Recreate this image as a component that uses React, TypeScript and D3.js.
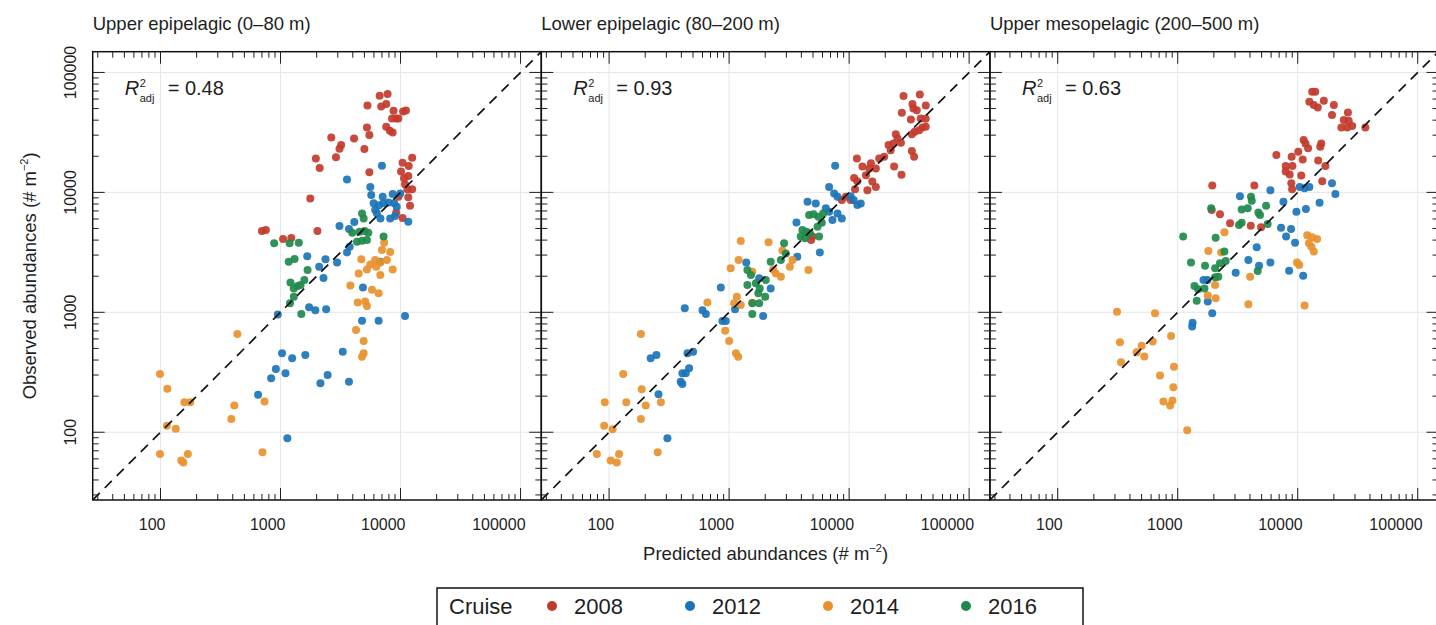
import React from 'react';
import * as d3 from 'd3';

// ---------- labels ----------
const panelTitles = ['Upper epipelagic (0–80 m)', 'Lower epipelagic (80–200 m)', 'Upper mesopelagic (200–500 m)'];
const r2Values = ['0.48', '0.93', '0.63'];
const cruises = ['2008', '2012', '2014', '2016'];
const cruiseColors = ['#c23b2c', '#1b74b9', '#e8912c', '#1f8a4c'];

// ---------- data: [predicted, observed] (# m^-2) ----------
const upperEpi2008 = [[6700,64000],[7800,66000],[5300,53000],[6900,52000],[7600,54500],[8750,48000],[10500,47300],[11100,48200],[8500,41400],[9200,41400],[9600,41400],[7600,35200],[8150,32700],[8600,31600],[5250,34800],[5500,30100],[2650,28700],[3200,24800],[3100,23100],[2900,19600],[4100,28200],[5000,23000],[1970,19200],[2120,16000],[5500,14700],[10400,17700],[12500,19400],[11700,16600],[10100,14900],[11600,13700],[10700,13100],[10900,11700],[11400,10600],[12500,10600],[9600,9200],[11600,9100],[12000,7750],[9200,6800],[10400,6100],[1770,8900],[700,4760],[755,4850],[1050,4080],[1230,4160],[2030,4760]];
const upperEpi2012 = [[7000,16700],[3580,12800],[5600,11100],[5700,9500],[7100,9200],[8600,9700],[9950,9800],[5970,8100],[6600,7800],[7200,8100],[7950,8250],[8850,8100],[9300,7600],[6150,7130],[6350,6700],[8200,6070],[9000,6350],[11600,5700],[6800,6070],[3100,5240],[4120,5670],[3720,4950],[3770,3520],[3580,3160],[1670,2930],[2370,2770],[2100,2400],[2960,2600],[2280,1930],[6780,2640],[4860,1610],[1730,1100],[1950,1040],[2400,1060],[950,960],[4780,850],[6570,850],[10900,930],[1030,455],[1250,414],[1610,441],[3300,470],[915,337],[1100,310],[835,282],[2150,256],[2470,300],[3720,264],[650,205],[1140,89]];
const upperEpi2014 = [[7300,3810],[7000,3300],[8200,3180],[4710,2770],[6150,2730],[5600,2510],[6780,2600],[5250,2280],[6280,2400],[7700,2730],[8600,2280],[6780,2050],[4480,2110],[3820,1670],[5780,1540],[6570,1440],[4400,1210],[5080,1230],[5250,1130],[4260,713],[4930,577],[4930,455],[4780,427],[437,659],[99,306],[114,230],[158,178],[177,178],[412,167],[389,129],[736,180],[113,113],[134,107],[99,66],[149,58],[155,56],[169,66],[708,68]];
const upperEpi2016 = [[4780,6680],[4930,6070],[4560,4700],[5020,4760],[5390,4610],[4780,3950],[4340,3880],[5250,4010],[7220,4280],[3960,4610],[885,3760],[1190,3760],[1420,3810],[1170,2640],[1310,2780],[1680,2250],[1210,1770],[1390,1660],[1580,1860],[1470,1690],[1290,1350],[1200,1190],[1490,970],[1290,1580]];

const lowerEpi2008 = [[28400,63500],[38800,65600],[33700,54500],[34300,50100],[36600,48500],[43500,53100],[27500,46100],[32700,40600],[39500,41400],[43500,41100],[40800,34800],[43500,35200],[35200,32100],[38300,33000],[33300,30600],[24500,30600],[25300,28200],[21300,24800],[23400,25600],[27000,25900],[22200,22500],[33300,22100],[34800,19800],[19600,19800],[17800,19200],[11600,19200],[15200,17500],[12900,16400],[23700,16400],[14700,15800],[16700,15800],[27300,14000],[13800,13900],[11000,13200],[15600,12300],[11700,12400],[16700,11100],[14200,10400],[11200,10600],[9400,9200],[10300,8630],[8700,8630],[4950,4280],[4820,4010]];
const lowerEpi2012 = [[7650,16700],[6810,11100],[7500,9800],[8000,9200],[10300,9300],[10900,8630],[11700,7830],[12500,8090],[4500,8360],[5270,8090],[6390,7360],[6810,6900],[8000,6680],[8690,6070],[7260,5880],[3640,5620],[5700,3160],[3700,2910],[1390,2600],[1780,1920],[2220,1580],[1920,931],[853,1610],[427,1080],[600,1040],[640,968],[880,847],[938,847],[1120,1060],[222,414],[248,441],[450,455],[501,470],[408,310],[435,310],[464,341],[395,264],[408,253],[258,207],[306,89]];
const lowerEpi2014 = [[1250,3930],[2130,3830],[1200,2730],[1030,2330],[1560,2180],[2330,2280],[2780,3270],[3370,2730],[2450,2110],[2700,1980],[4580,2250],[3210,2400],[1160,1350],[1250,1150],[1560,1200],[1100,1190],[659,1210],[927,703],[1000,577],[1140,455],[1190,427],[184,659],[131,306],[187,228],[92,178],[139,178],[202,167],[184,129],[270,178],[91,113],[107,106],[79,66],[103,58],[116,56],[121,66],[254,68]];
const lowerEpi2016 = [[4640,6470],[5050,6560],[5550,6270],[6070,6680],[5920,5580],[5450,5180],[4080,4850],[4410,4700],[4730,4550],[3950,4280],[4300,4140],[5620,4280],[2870,3760],[2970,3100],[2700,2730],[2220,2640],[1420,2250],[1520,2050],[1420,1690],[1670,1750],[1800,1580],[2020,1860],[1750,1440],[2000,1350],[1560,1190],[1780,1190],[1560,968]];

const upperMeso2008 = [[13200,69000],[14000,69000],[12500,57000],[13600,53400],[14700,51000],[16500,58100],[20000,53400],[19300,44100],[26200,46400],[24200,40100],[26600,39600],[23100,34800],[25800,34800],[28400,35700],[36600,34800],[11200,27300],[11600,25600],[12200,23300],[15700,25600],[15400,24000],[10100,21800],[6640,20500],[8900,19800],[11000,18800],[14800,18400],[17000,16600],[7940,16600],[9030,16600],[7940,14900],[8570,14100],[10700,13800],[8840,11900],[16000,12400],[1940,11400],[4350,11400],[8980,10600],[1920,7130],[2250,6560],[2730,5520],[4060,5270],[4950,5110]];
const upperMeso2012 = [[19300,11900],[20600,9680],[5920,10400],[3300,9300],[10400,11100],[11400,10800],[12500,11100],[7600,8360],[15200,8200],[9750,6900],[11700,7260],[7260,5080],[8000,4280],[8800,4950],[9500,3810],[4550,3480],[3880,2730],[4760,2450],[5920,2600],[3040,2140],[8480,2220],[11100,2020],[1770,1860],[1640,1860],[1780,1230],[1940,982],[1330,820],[1320,760]];
const upperMeso2014 = [[12000,4400],[13200,4220],[14500,4080],[12400,3760],[13000,3520],[13600,3210],[9860,2600],[10300,2480],[11400,1140],[2450,4640],[1800,3240],[2300,3160],[4010,1980],[2050,1690],[1780,1380],[2070,1310],[3880,1170],[312,1010],[647,982],[880,635],[330,562],[501,527],[455,464],[527,428],[619,570],[337,383],[931,352],[712,297],[920,237],[760,180],[903,184],[864,167],[1200,104]];
const upperMeso2016 = [[1110,4280],[1900,7360],[3410,7210],[3830,7360],[4080,9200],[4140,8530],[5450,7750],[4700,6810],[4850,6470],[3410,5580],[3240,5340],[5620,5450],[2070,4190],[2450,3210],[1290,2600],[1690,2450],[2050,2330],[2250,2560],[2510,2680],[2050,1960],[2180,1980],[4640,2210],[1380,1660],[1480,1560],[1670,1580],[1440,1250]];

// ---------- layout ----------
const X0 = 92.7;
const Y0 = 51.7;
const PW = 448.6;
const PH = 448.3;
const DOMAIN: [number, number] = [Math.pow(10, 1.435), Math.pow(10, 5.173)];
const FONT = '"Liberation Sans", Arial, Helvetica, sans-serif';
const INK = '#1e1e1e';

const panels = [
  { title: panelTitles[0], r2: r2Values[0], series: [upperEpi2008, upperEpi2012, upperEpi2014, upperEpi2016] },
  { title: panelTitles[1], r2: r2Values[1], series: [lowerEpi2008, lowerEpi2012, lowerEpi2014, lowerEpi2016] },
  { title: panelTitles[2], r2: r2Values[2], series: [upperMeso2008, upperMeso2012, upperMeso2014, upperMeso2016] },
];

const isMajor = (v: number) => Math.abs(Math.log10(v) - Math.round(Math.log10(v))) < 1e-6;

function Panel({ p, i }: { p: any; i: number }) {
  const left = X0 + i * PW;
  const right = left + PW;
  const top = Y0;
  const bottom = Y0 + PH;
  const x = d3.scaleLog().domain(DOMAIN).range([left, right]);
  const y = d3.scaleLog().domain(DOMAIN).range([bottom, top]);
  const xt = x.ticks();
  const yt = y.ticks();
  const clipId = `clip${i}`;
  const MAJ = 12;
  const MIN = 6;
  return (
    <g>
      <defs>
        <clipPath id={clipId}>
          <rect x={left} y={top} width={PW} height={PH} />
        </clipPath>
      </defs>
      {/* grid */}
      {xt.filter(isMajor).map((v) => (
        <line key={'gx' + v} x1={x(v)} x2={x(v)} y1={top} y2={bottom} stroke="#e6e6e6" strokeWidth={1} />
      ))}
      {yt.filter(isMajor).map((v) => (
        <line key={'gy' + v} y1={y(v)} y2={y(v)} x1={left} x2={right} stroke="#e6e6e6" strokeWidth={1} />
      ))}
      {/* points */}
      <g clipPath={`url(#${clipId})`}>
        {p.series.map((s: number[][], si: number) =>
          s.map((d, k) => (
            <circle key={si + '-' + k} cx={x(d[0])} cy={y(d[1])} r={4} fill={cruiseColors[si]} fillOpacity={0.92} />
          ))
        )}
        <line x1={x(DOMAIN[0])} y1={y(DOMAIN[0])} x2={x(DOMAIN[1])} y2={y(DOMAIN[1])} stroke="#111" strokeWidth={1.7} strokeDasharray="10,7" />
      </g>
      {/* ticks */}
      {xt.map((v) => {
        const L = isMajor(v) ? MAJ : MIN;
        return (
          <g key={'tx' + v}>
            <line x1={x(v)} x2={x(v)} y1={bottom} y2={bottom - L} stroke={INK} strokeWidth={1} />
            <line x1={x(v)} x2={x(v)} y1={top} y2={top + L} stroke={INK} strokeWidth={1} />
          </g>
        );
      })}
      {yt.map((v) => {
        const L = isMajor(v) ? MAJ : MIN;
        return (
          <g key={'ty' + v}>
            <line y1={y(v)} y2={y(v)} x1={left} x2={left + L} stroke={INK} strokeWidth={1} />
            <line y1={y(v)} y2={y(v)} x1={right} x2={right - L} stroke={INK} strokeWidth={1} />
          </g>
        );
      })}
      <rect x={left} y={top} width={PW} height={PH} fill="none" stroke="#111" strokeWidth={1.5} />
      {/* x tick labels */}
      {xt.filter(isMajor).map((v) => (
        <text key={'lx' + v} x={x(v) + 5} y={530} textAnchor="end" fontSize={16} fill={INK}>
          {String(v)}
        </text>
      ))}
      {/* y tick labels (first panel only) */}
      {i === 0 &&
        yt.filter(isMajor).map((v) => (
          <text key={'ly' + v} x={76} y={y(v)} textAnchor="middle" fontSize={16} fill={INK} transform={`rotate(-90, 76, ${y(v)})`}>
            {String(v)}
          </text>
        ))}
      {/* title */}
      <text x={left} y={30} fontSize={18.5} fill={INK}>
        {p.title}
      </text>
      {/* R2 annotation */}
      <g fill={INK}>
        <text x={left + 32} y={95} fontSize={20} fontStyle="italic">R</text>
        <text x={left + 47} y={87} fontSize={11}>2</text>
        <text x={left + 47} y={102} fontSize={11}>adj</text>
        <text x={left + 75} y={95} fontSize={20}>{'= ' + p.r2}</text>
      </g>
    </g>
  );
}

export default function App() {
  const legendItems = cruises.map((c, k) => ({ c, color: cruiseColors[k], cx: 552 + k * 138 }));
  return (
    <svg width={1436} height={625} style={{ position: 'absolute', left: 0, top: 0, fontFamily: FONT }}>
      <rect x={0} y={0} width={1436} height={625} fill="#fff" />
      {panels.map((p, i) => (
        <Panel key={i} p={p} i={i} />
      ))}
      {/* axis titles */}
      <text x={X0 + (3 * PW) / 2} y={560} textAnchor="middle" fontSize={18.5} fill={INK}>
        Predicted abundances (# m<tspan fontSize={11} dy={-8}>−2</tspan><tspan dy={8}>)</tspan>
      </text>
      <text transform={`translate(36, ${Y0 + PH / 2}) rotate(-90)`} textAnchor="middle" fontSize={18.5} fill={INK}>
        Observed abundances (# m<tspan fontSize={11} dy={-8}>−2</tspan><tspan dy={8}>)</tspan>
      </text>
      {/* legend */}
      <rect x={437} y={588} width={646} height={60} fill="#fff" stroke="#111" strokeWidth={1.5} />
      <text x={449} y={614} fontSize={22} fill={INK}>Cruise</text>
      {legendItems.map((it) => (
        <g key={it.c}>
          <circle cx={it.cx} cy={606} r={5} fill={it.color} />
          <text x={it.cx + 22} y={614} fontSize={22} fill={INK}>{it.c}</text>
        </g>
      ))}
    </svg>
  );
}
